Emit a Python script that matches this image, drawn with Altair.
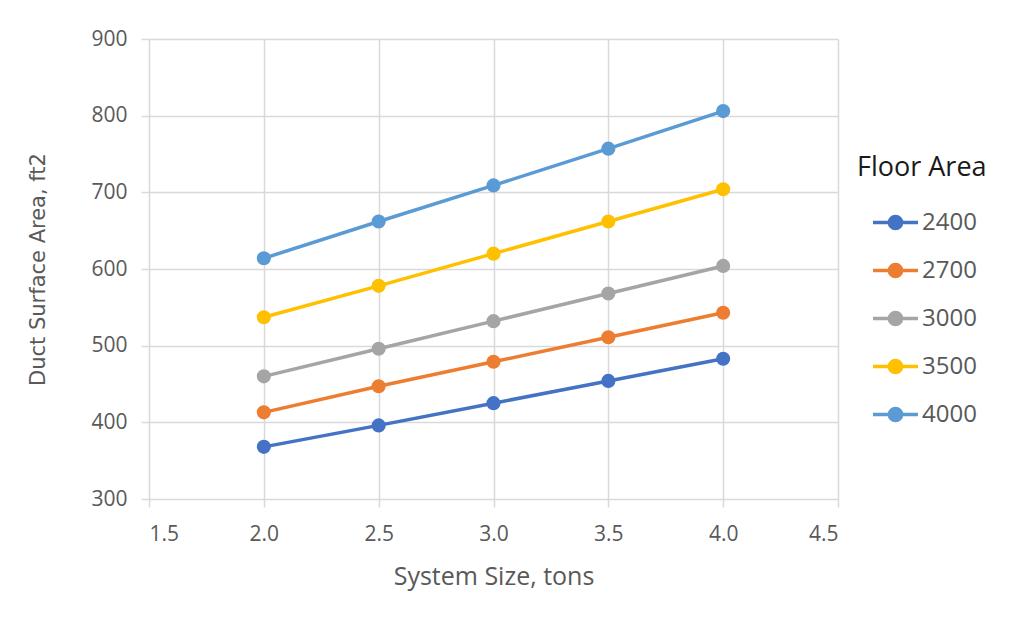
import altair as alt
import pandas as pd

sizes = [2.0, 2.5, 3.0, 3.5, 4.0]
areas = ["2400", "2700", "3000", "3500", "4000"]
s2400 = [368, 396, 425, 454, 483]
s2700 = [413, 447, 479, 511, 543]
s3000 = [460, 496, 532, 568, 604]
s3500 = [537, 578, 620, 662, 704]
s4000 = [614, 662, 709, 757, 806]
colors = ["#4472C4", "#ED7D31", "#A5A5A5", "#FFC000", "#5B9BD5"]

series = [s2400, s2700, s3000, s3500, s4000]
rows = []
for a, vals in zip(areas, series):
    for x, v in zip(sizes, vals):
        rows.append({"size": x, "area": v, "floor": a})
df = pd.DataFrame(rows)

scale = alt.Scale(domain=areas, range=colors)
xenc = alt.X("size:Q", title="System Size, tons",
             scale=alt.Scale(domain=[1.5, 4.5], nice=False, zero=False),
             axis=alt.Axis(values=[1.5, 2.0, 2.5, 3.0, 3.5, 4.0, 4.5], format=".1f"))
yenc = alt.Y("area:Q", title="Duct Surface Area, ft2",
             scale=alt.Scale(domain=[300, 900], nice=False, zero=False),
             axis=alt.Axis(values=[300, 400, 500, 600, 700, 800, 900]))

sym = "M-1,0L1,0M-0.27,0A0.27,0.27,0,1,1,0.27,0A0.27,0.27,0,1,1,-0.27,0Z"
leg = alt.Legend(title="Floor Area", orient="none", legendX=708, legendY=116,
                 symbolType=sym, symbolSize=2025, symbolStrokeWidth=3.5,
                 titleFontSize=27, titleFontWeight="normal", titleColor="#1a1a1a",
                 titleFont="Open Sans", titlePadding=16,
                 labelFontSize=24, labelColor="#595959", labelFont="Open Sans",
                 rowPadding=10, symbolOffset=14, labelOffset=2)

lines = alt.Chart(df).mark_line(strokeWidth=3.5).encode(
    x=xenc, y=yenc,
    color=alt.Color("floor:N", scale=scale, legend=leg),
)

points = alt.Chart(df).mark_point(filled=True, size=200, strokeWidth=0, opacity=1).encode(
    x=xenc, y=yenc,
    color=alt.Color("floor:N", scale=scale, legend=leg),
)

chart = alt.layer(lines, points).properties(
    width=689, height=460,
    autosize=alt.AutoSizeParams(type="none"),
    padding={"left": 141, "top": 31, "right": 183, "bottom": 112},
    background="white",
).configure_axis(
    grid=True, gridColor="#D9D9D9", gridWidth=1.5,
    domain=False, ticks=True, tickColor="#D9D9D9", tickSize=8, tickWidth=1.5,
    labelFont="Open Sans", labelFontSize=21, labelColor="#595959",
    titleFont="Open Sans", titleFontSize=25, titleColor="#595959", titleFontWeight="normal",
).configure_axisX(titlePadding=20, labelPadding=16).configure_axisY(
    titleFont="DejaVu Sans", titleFontSize=21, titlePadding=42, labelPadding=14
).configure_view(stroke=None)

chart.save("out.html", embed_options={"renderer": "svg", "actions": False})
